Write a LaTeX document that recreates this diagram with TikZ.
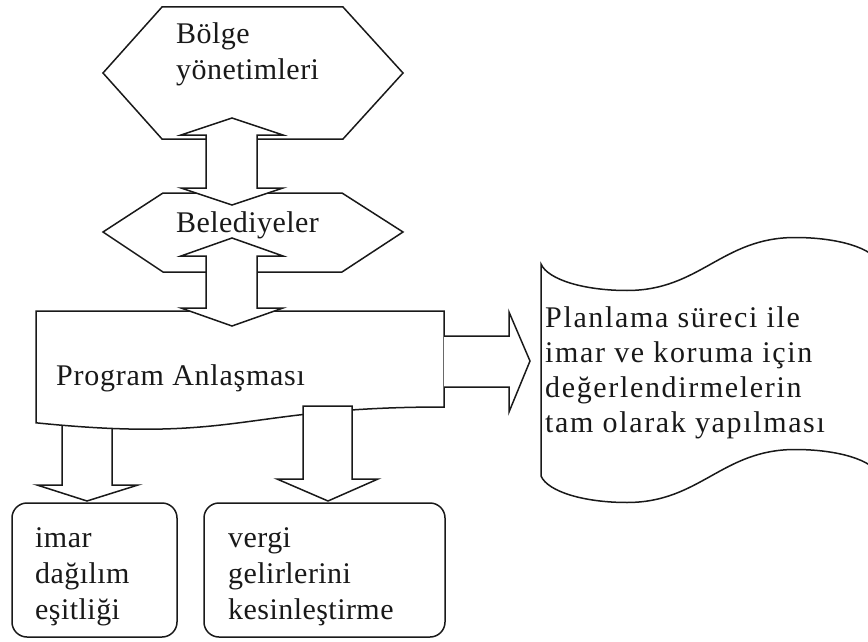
\documentclass[tikz,border=0pt]{standalone}
\usepackage{fontspec}
\setmainfont{Liberation Serif}
\begin{document}
\begin{tikzpicture}[x=1pt,y=-1pt,
  shapeline/.style={draw=black!90, line width=1.5pt, fill=white, line join=miter},
  labeltext/.style={anchor=base west, inner sep=0pt, text=black!90},
  txtsmall/.style={labeltext, font=\fontsize{30}{36}\selectfont\addfontfeatures{LetterSpace=1.5}},
  txtwide/.style={labeltext, font=\fontsize{30}{35.3}\selectfont\addfontfeatures{LetterSpace=5.5}},
]
\useasboundingbox (0,0) rectangle (868,642);
\clip (0,0) rectangle (868,642);

% hexagons
\draw[shapeline] (103,73) -- (162,7) -- (343,7) -- (403,73) -- (343,139) -- (162,139) -- cycle;
\draw[shapeline] (103,232) -- (163,193) -- (342,193) -- (403,232) -- (342,272) -- (163,272) -- cycle;

% punched tape on the right
\draw[shapeline] (541,264)
  .. controls (548,280) and (585,290.5) .. (627,290.5)
  .. controls (700,290.5) and (722,237.5) .. (795,237.5)
  .. controls (838,237.5) and (873,248) .. (880,264)
  -- (880,476)
  .. controls (873,460) and (838,449.5) .. (795,449.5)
  .. controls (722,449.5) and (700,502.5) .. (627,502.5)
  .. controls (585,502.5) and (548,492) .. (541,476)
  -- cycle;

% down arrow under the document (left), partly hidden by it
\draw[shapeline] (62,412) -- (62,485) -- (37,485) -- (87,501) -- (138,485) -- (112,485) -- (112,412);

% document shape
\draw[shapeline] (36,311) -- (444,311) -- (444,407)
  .. controls (240,407) and (240,443.6) .. (36,422.8) -- cycle;

% down arrow (right)
\draw[shapeline] (303,406) -- (352,406) -- (352,479) -- (378,479) -- (328,501) -- (277,479) -- (303,479) -- cycle;

% right arrow
\draw[shapeline] (444,336) -- (509,336) -- (509,312) -- (530,361) -- (509,412) -- (509,387) -- (444,387);

% up-down arrows
\draw[shapeline] (232,118) -- (283,135) -- (257,135) -- (257,188) -- (283,188) -- (232,205)
  -- (181,188) -- (206,188) -- (206,135) -- (181,135) -- cycle;
\draw[shapeline] (232,238) -- (283,256) -- (257,256) -- (257,308) -- (283,308) -- (232,326)
  -- (181,308) -- (206,308) -- (206,256) -- (181,256) -- cycle;

% rounded boxes
\draw[shapeline, rounded corners=15pt] (12,503) rectangle (177,637);
\draw[shapeline, rounded corners=15pt] (204,503) rectangle (445,637);

% texts
\node[txtsmall] (bolge) at (176,44) {\begin{tabular}[t]{@{}l@{}}Bölge\\yönetimleri\end{tabular}};
\node[txtsmall] (beled) at (176,232) {Belediyeler};
\node[txtsmall, font=\fontsize{30}{36}\selectfont\addfontfeatures{LetterSpace=2.5}] (prog) at (56,385) {Program Anlaşması};
\node[txtwide] (plan) at (545,327) {\begin{tabular}[t]{@{}l@{}}Planlama süreci ile\\imar ve koruma için\\değerlendirmelerin\\tam olarak yapılması\end{tabular}};
\node[txtsmall] (imar) at (35,547) {\begin{tabular}[t]{@{}l@{}}imar\\dağılım\\eşitliği\end{tabular}};
\node[txtsmall] (vergi) at (228,547) {\begin{tabular}[t]{@{}l@{}}vergi\\gelirlerini\\kesinleştirme\end{tabular}};
\end{tikzpicture}
\end{document}
